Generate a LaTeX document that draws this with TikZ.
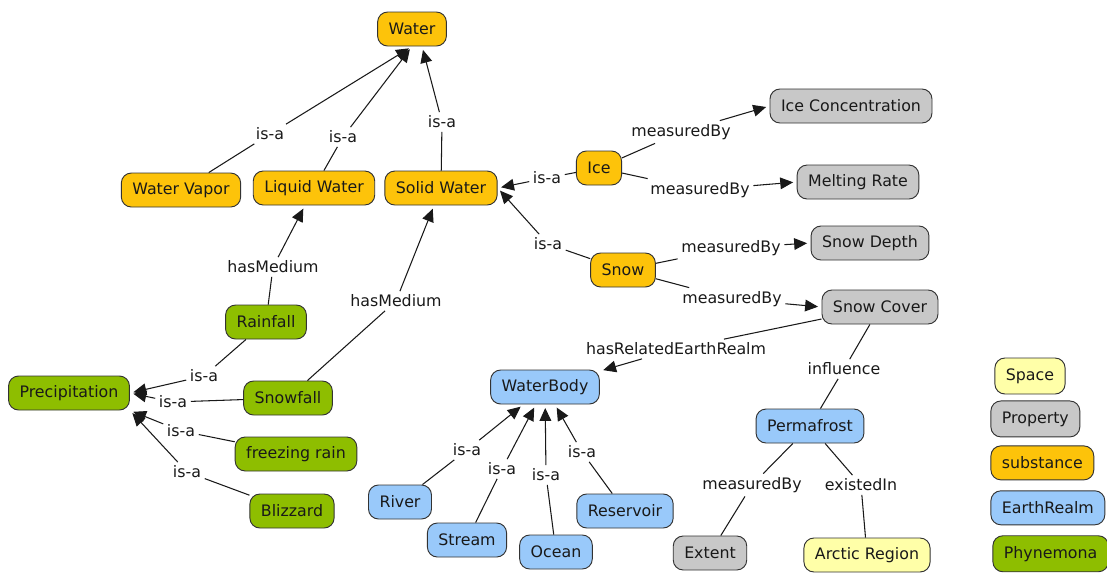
\documentclass[tikz,border=0pt]{standalone}
\usepackage{fontspec}
\setmainfont{DejaVu Sans}
\usepackage{xcolor}
\usepackage{tikz}
\usetikzlibrary{arrows.meta, positioning}

\definecolor{substcol}{RGB}{253,195,10}
\definecolor{propcol}{RGB}{200,200,200}
\definecolor{realmcol}{RGB}{153,201,250}
\definecolor{phencol}{RGB}{142,190,0}
\definecolor{spacecol}{RGB}{255,255,168}

\begin{document}
\begin{tikzpicture}[
    x=0.03cm, y=-0.03cm,
    node distance=0.24cm,
    font=\fontsize{13.5}{16}\selectfont,
    concept/.style={draw=black!80, line width=0.8pt, rounded corners=0.3cm, minimum height=1.02cm, inner xsep=0.33cm, inner ysep=0pt, text=black!90},
    subst/.style={concept, fill=substcol},
    propty/.style={concept, fill=propcol},
    realm/.style={concept, fill=realmcol},
    phen/.style={concept, fill=phencol},
    spacebox/.style={concept, fill=spacecol},
    legend/.style={minimum height=1.08cm},
    link/.style={inner sep=3pt, text=black!90},
    conn/.style={line width=0.9pt, black!90},
    arrow/.style={conn, -{Triangle[length=11pt, width=10pt]}, shorten >=3pt},
]
\useasboundingbox (0,0) rectangle (1107,574);

% Substances
\node[subst] (water)  at (412,29)  {Water};
\node[subst] (wvapor) at (181,190) {Water Vapor};
\node[subst] (lwater) at (314,188) {Liquid Water};
\node[subst] (swater) at (441,188) {Solid Water};
\node[subst] (ice)    at (599,168) {Ice};
\node[subst] (snow)   at (623,270) {Snow};

% Properties
\node[propty] (icecon) at (851,106) {Ice Concentration};
\node[propty] (melt)   at (858,182) {Melting Rate};
\node[propty] (sdepth) at (870,243) {Snow Depth};
\node[propty] (scover) at (880,307) {Snow Cover};
\node[propty] (extent) at (710,553) {Extent};

% Phenomena
\node[phen] (precip) at (69,393)  {Precipitation};
\node[phen] (rain)   at (266,322) {Rainfall};
\node[phen] (sfall)  at (288,398) {Snowfall};
\node[phen] (frain)  at (296,454) {freezing rain};
\node[phen] (blizz)  at (292,511) {Blizzard};

% Earth realms
\node[realm] (wbody)  at (545,387) {WaterBody};
\node[realm] (river)  at (400,502) {River};
\node[realm] (stream) at (467,540) {Stream};
\node[realm] (ocean)  at (556,552) {Ocean};
\node[realm] (reserv) at (625,511) {Reservoir};
\node[realm] (perma)  at (810,426) {Permafrost};

% Space
\node[spacebox] (arctic) at (867,555) {Arctic Region};

% Linking phrases
\node[link] (lwv)     at (270,134) {is-a};
\node[link] (llw)     at (343,137) {is-a};
\node[link] (lsw)     at (442,122) {is-a};
\node[link] (lice)    at (547,178) {is-a};
\node[link] (lsnow)   at (548,244) {is-a};
\node[link] (lic)     at (681,132) {measuredBy};
\node[link] (lmr)     at (700,190) {measuredBy};
\node[link] (lsd)     at (731,248) {measuredBy};
\node[link] (lsc)     at (732,299) {measuredBy};
\node[link] (lhr)     at (676,349) {hasRelatedEarthRealm};
\node[link] (linf)    at (844,369) {influence};
\node[link] (lpe)     at (752,485) {measuredBy};
\node[link] (lei)     at (861,485) {existedIn};
\node[link] (lhm1)    at (273,267) {hasMedium};
\node[link] (lhm2)    at (396,301) {hasMedium};
\node[link] (lrain)   at (204,376) {is-a};
\node[link] (lsfall)  at (173,402) {is-a};
\node[link] (lfrain)  at (181,431) {is-a};
\node[link] (lblizz)  at (187,472) {is-a};
\node[link] (lriver)  at (467,450) {is-a};
\node[link] (lstream) at (502,469) {is-a};
\node[link] (locean)  at (546,475) {is-a};
\node[link] (lreserv) at (582,452) {is-a};

% Connectors
\draw[conn] (wvapor) -- (lwv) edge[arrow] (water.south);
\draw[conn] (lwater) -- (llw) edge[arrow] (water.south);
\draw[conn] (swater) -- (lsw) edge[arrow] (water.-60);
\draw[conn] (ice) -- (lice) edge[arrow] (swater.east);
\draw[conn] (snow) -- (lsnow) edge[arrow] (swater.east);
\draw[conn] (ice) -- (lic) edge[arrow] (icecon.west);
\draw[conn] (ice) -- (lmr) edge[arrow] (melt.west);
\draw[conn] (snow) -- (lsd) edge[arrow] (sdepth.west);
\draw[conn] (snow) -- (lsc) edge[arrow] (scover.west);
\draw[conn] (scover) -- (lhr) edge[arrow] (wbody);
\draw[conn] (scover) -- (linf) edge (perma);
\draw[conn] (perma) -- (lpe) edge (extent);
\draw[conn] (perma) -- (lei) edge (arctic);
\draw[conn] (rain) -- (lhm1) edge[arrow] (lwater);
\draw[conn] (sfall) -- (lhm2) edge[arrow] (swater);
\draw[conn] (rain) -- (lrain) edge[arrow] (precip.east);
\draw[conn] (sfall) -- (lsfall) edge[arrow] (precip.east);
\draw[conn] (frain) -- (lfrain) edge[arrow] (precip.south east);
\draw[conn] (blizz) -- (lblizz) edge[arrow] (precip.south east);
\draw[conn] (river) -- (lriver) edge[arrow] (wbody);
\draw[conn] (stream) -- (lstream) edge[arrow] (wbody);
\draw[conn] (ocean) -- (locean) edge[arrow] (wbody);
\draw[conn] (reserv) -- (lreserv) edge[arrow] (wbody);

% Legend
\node[spacebox, legend] (kspace) at (1030,376) {Space};
\node[propty, legend, below=0.18cm of kspace.south west, anchor=north west, xshift=-0.12cm] (kprop) {Property};
\node[subst, below=0.24cm of kprop.south west, anchor=north west] (ksubst) {substance};
\node[realm, below=0.3cm of ksubst.south west, anchor=north west] (krealm) {EarthRealm};
\node[phen, legend, below=0.3cm of krealm.south west, anchor=north west, xshift=0.06cm] (kphen) {Phynemona};

\end{tikzpicture}
\end{document}
